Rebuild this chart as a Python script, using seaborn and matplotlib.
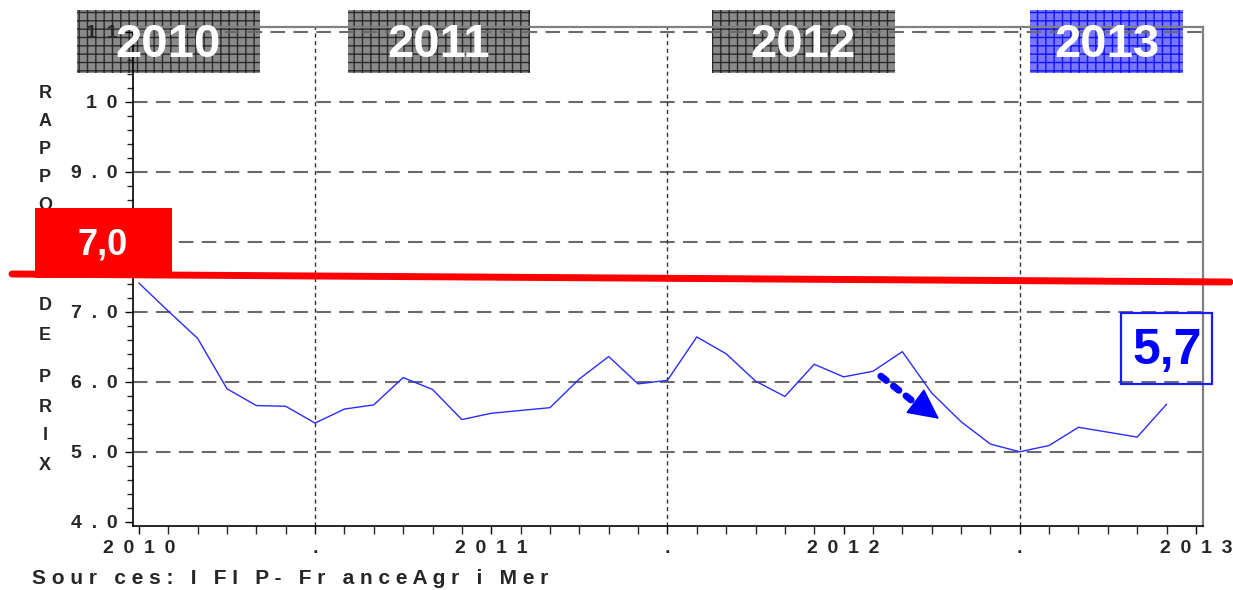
import numpy as np
import pandas as pd
import seaborn as sns
import matplotlib.pyplot as plt
from matplotlib.patches import Rectangle
from matplotlib.lines import Line2D
from matplotlib.ticker import MultipleLocator

# donnees (rapport de prix mensuel)
mois = pd.date_range('2010-01-01', '2012-12-01', freq='MS')
rapport = [7.41, 7.01, 6.62, 5.90, 5.66, 5.65, 5.41, 5.61, 5.67, 6.06, 5.89, 5.46,
           5.55, 5.59, 5.63, 6.04, 6.36, 5.97, 6.02, 6.64, 6.40, 6.01, 5.79, 6.25,
           6.07, 6.15, 6.43, 5.84, 5.43, 5.11, 5.00, 5.09, 5.35, 5.28, 5.21, 5.68]
y_ticks = [4, 5, 6, 7, 8, 9, 10, 11]
y_labels = ['4.0', '5.0', '6.0', '7.0', '8.0', '9.0', '10', '11']
x_ticks = [0, 6, 12, 18, 24, 30, 36]
x_labels = ['2010', '.', '2011', '.', '2012', '.', '2013']
annees = ['2010', '2011', '2012', '2013']
seuil_txt = '7,0'
dernier_txt = '5,7'
source = 'Sour ces: I FI P- Fr anceAgr i Mer'

W, H = 1233, 590


def fx(px):
    return px / W


def fy(py):
    return 1 - py / H


def spaced(s, sep='\u2002'):
    return sep.join(s)


df = pd.DataFrame({'mois': mois, 'rapport': rapport})
df['t'] = (df['mois'].dt.year - 2010) * 12 + df['mois'].dt.month - 1

sns.set_style('ticks')
plt.rcParams['font.family'] = ['Liberation Sans', 'DejaVu Sans']
plt.rcParams['hatch.linewidth'] = 1.0

fig = plt.figure(figsize=(W / 100, H / 100), dpi=100, facecolor='white')
ax = fig.add_axes([fx(133), fy(526), fx(1203) - fx(133), fy(27) - fy(526)])
ax.patch.set_visible(False)

# grille
for y in y_ticks[1:]:
    ax.axhline(y, color='#6a6a6a', lw=1.5, ls=(0, (7, 4)), zorder=1)
for t in x_ticks[1::2]:
    ax.axvline(t, color='#333333', lw=1.0, ls=(0, (3, 2.5)), zorder=1)

sns.lineplot(data=df, x='t', y='rapport', ax=ax, color='#2b2bff', lw=1.0,
             legend=False, zorder=3)

ax.set_xlim(-0.2, 36.24)
ax.set_ylim(3.94, 11.067)
ax.set_xlabel('')
ax.set_ylabel('')

ax.set_yticks(y_ticks, [spaced(l) for l in y_labels])
ax.yaxis.set_minor_locator(MultipleLocator(0.2))
ax.set_xticks(x_ticks, [spaced(l) for l in x_labels])
ax.xaxis.set_minor_locator(MultipleLocator(1))
ax.tick_params(axis='both', which='major', length=6, width=1, direction='out',
               labelsize=14, color='black')
ax.tick_params(axis='y', which='minor', length=4, width=1, direction='out')
ax.tick_params(axis='x', which='minor', length=6, width=1, direction='out')
ax.tick_params(axis='y', pad=5)
ax.tick_params(axis='x', pad=4)
for lab in ax.get_xticklabels() + ax.get_yticklabels():
    lab.set_fontweight('bold')

for s in ['left', 'bottom']:
    ax.spines[s].set_color('black')
    ax.spines[s].set_linewidth(1.2)
for s in ['top', 'right']:
    ax.spines[s].set_color('#808080')
    ax.spines[s].set_linewidth(1.6)

# fleche pointillee
ax.annotate('', xy=(26.3, 5.74), xytext=(25.27, 6.08),
            arrowprops=dict(arrowstyle='-', lw=5, ls=(0, (1, 1.3)), color='blue',
                            shrinkA=0, shrinkB=0), zorder=4)
ax.annotate('', xy=(27.25, 5.47), xytext=(26.55, 5.69),
            arrowprops=dict(arrowstyle='-|>,head_length=2.0,head_width=1.0',
                            lw=1, color='blue', shrinkA=0, shrinkB=0), zorder=4)

# titre vertical
lettres = [('R', 93), ('A', 121), ('P', 150), ('P', 178), ('O', 206), ('R', 235),
           ('T', 263), ('D', 306), ('E', 335), ('P', 378), ('R', 407), ('I', 435),
           ('X', 465)]
for c, py in lettres:
    fig.text(fx(45), fy(py), c, ha='center', va='center', fontsize=13,
             fontweight='bold')

# ligne rouge et etiquette 7,0
fig.add_artist(Line2D([fx(12), fx(1230)], [fy(274), fy(282)], color='#ff0000',
                      lw=5, zorder=5))
fig.add_artist(Rectangle((fx(35), fy(278)), fx(172) - fx(35), fy(208) - fy(278),
                         facecolor='#ff0000', edgecolor='none', zorder=6))
fig.text(fx(103), fy(245), seuil_txt, ha='center', va='center', color='white',
         fontsize=26, fontweight='bold', zorder=7)

# etiquette 5,7
fig.add_artist(Rectangle((fx(1121), fy(384)), fx(1212) - fx(1121), fy(313) - fy(384),
                         facecolor='none', edgecolor='#1a1aff', lw=1.6, zorder=6))
fig.text(fx(1167), fy(351), dernier_txt, ha='center', va='center', color='#0000ff',
         fontsize=36, fontweight='bold', zorder=7)

# bandeaux annees (sous les axes, texte par-dessus)
boites = [(77, 260), (348, 530), (712, 895), (1030, 1183)]
for (x0, x1), an in zip(boites, annees):
    bleu = an == '2013'
    fig.add_artist(Rectangle((fx(x0), fy(73)), fx(x1) - fx(x0), fy(10) - fy(73),
                             facecolor='#7878ff' if bleu else '#8a8a8a',
                             edgecolor='#1010ff' if bleu else '#2a2a2a',
                             hatch='++', lw=0, zorder=-1))
    fig.text(fx((x0 + x1) / 2), fy(45), an, ha='center', va='center',
             color='white', fontsize=34, fontweight='bold', zorder=7)

fig.text(fx(32), fy(578), spaced(source, ' '), ha='left', va='center',
         fontsize=15, fontweight='bold')

fig.savefig('out.png', dpi=100, facecolor='white')
